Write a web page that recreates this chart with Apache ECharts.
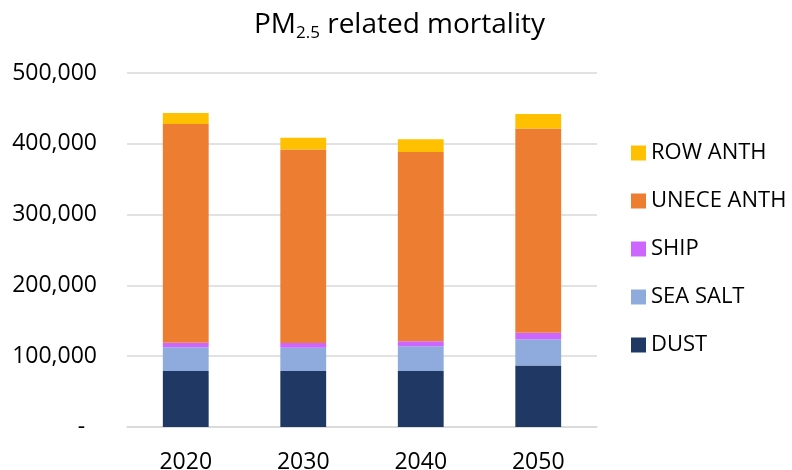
<!DOCTYPE html>
<html>
<head>
<meta charset="utf-8">
<script src="https://cdn.jsdelivr.net/npm/echarts@6/dist/echarts.min.js"></script>
<style>
  html, body { margin: 0; padding: 0; background: #fff; }
  #chart { width: 792px; height: 470px; }
</style>
</head>
<body>
<div id="chart"></div>
<script>
// Years on the category axis
const years = ['2020', '2030', '2040', '2050'];

// PM2.5 related deaths by source, stacked bottom to top
const dust = [79000, 79000, 79000, 87000];
const seaSalt = [33500, 33000, 35000, 37000];
const ship = [6500, 6500, 7000, 9000];
const uneceAnth = [309000, 273500, 267500, 288500];
const rowAnth = [15500, 16500, 18000, 20500];

// Value axis ticks
const yTicks = [0, 100000, 200000, 300000, 400000, 500000];

// Legend order, top to bottom
const legendOrder = ['ROW ANTH', 'UNECE ANTH', 'SHIP', 'SEA SALT', 'DUST'];

const FONT = '"Open Sans", "Noto Sans", sans-serif';

const seriesDefs = [
  { name: 'DUST', data: dust, color: '#203864' },
  { name: 'SEA SALT', data: seaSalt, color: '#8FAADC' },
  { name: 'SHIP', data: ship, color: '#CC66FF' },
  { name: 'UNECE ANTH', data: uneceAnth, color: '#ED7D31' },
  { name: 'ROW ANTH', data: rowAnth, color: '#FFC000' }
];

const chart = echarts.init(document.getElementById('chart'), null, { renderer: 'canvas' });

chart.setOption({
  backgroundColor: '#ffffff',
  animation: false,
  title: {
    text: '{m|PM}{s|2.5}{m| related mortality}',
    left: 254,
    top: 8,
    padding: 0,
    textStyle: {
      fontWeight: 'normal',
      rich: {
        m: { fontFamily: FONT, fontSize: 28, fontWeight: 'normal', color: '#000000', lineHeight: 34 },
        s: { fontFamily: FONT, fontSize: 17, fontWeight: 'normal', color: '#000000', lineHeight: 12, verticalAlign: 'bottom' }
      }
    }
  },
  legend: {
    orient: 'vertical',
    left: 626,
    top: 136,
    itemWidth: 15,
    itemHeight: 15,
    itemGap: 24,
    icon: 'rect',
    data: legendOrder,
    selectedMode: false,
    textStyle: { fontFamily: FONT, fontSize: 22, color: '#000000', lineHeight: 24 }
  },
  grid: {
    left: 127,
    right: 195,
    top: 73,
    bottom: 43,
    containLabel: false,
    outerBoundsMode: 'none'
  },
  xAxis: {
    type: 'category',
    data: years,
    axisTick: { show: false },
    axisLine: { show: true, lineStyle: { color: '#d9d9d9', width: 1.5 } },
    axisLabel: { fontFamily: FONT, fontSize: 23, color: '#000000', margin: 24 }
  },
  yAxis: {
    type: 'value',
    min: yTicks[0],
    max: yTicks[yTicks.length - 1],
    interval: yTicks[1] - yTicks[0],
    axisLine: { show: false },
    axisTick: { show: false },
    splitLine: { show: true, lineStyle: { color: '#d9d9d9', width: 1.5 } },
    axisLabel: {
      fontFamily: FONT,
      fontSize: 23,
      color: '#000000',
      margin: 30,
      formatter: function (v) {
        return v === 0 ? '-  ' : v.toLocaleString('en-US');
      }
    }
  },
  series: seriesDefs.map(function (s) {
    return {
      name: s.name,
      type: 'bar',
      stack: 'total',
      barWidth: '39%',
      data: s.data,
      itemStyle: { color: s.color }
    };
  })
});
</script>
</body>
</html>
